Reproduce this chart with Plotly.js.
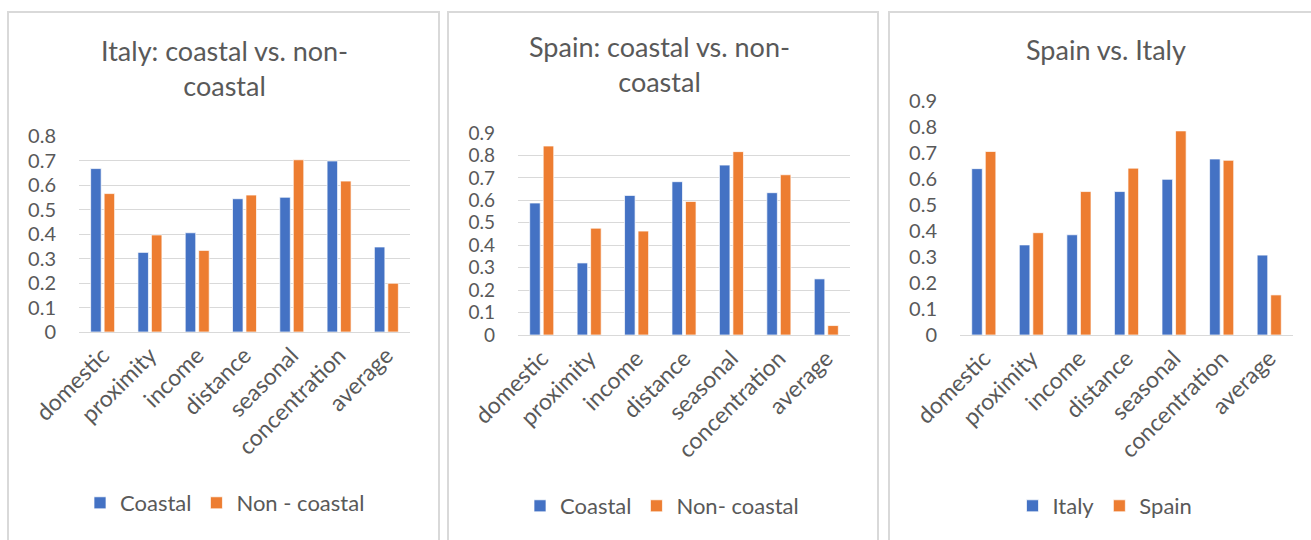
<!DOCTYPE html>
<html>
<head>
<meta charset="utf-8">
<script src="https://cdn.plot.ly/plotly-3.0.1.min.js"></script>
<style>
  html, body { margin: 0; padding: 0; background: #ffffff; }
  #chart { width: 1311px; height: 540px; }
</style>
</head>
<body>
<div id="chart"></div>
<script>
// Factor scores by category
const categories = ['domestic', 'proximity', 'income', 'distance', 'seasonal', 'concentration', 'average'];

const italyCoastal    = [0.667, 0.325, 0.405, 0.544, 0.550, 0.698, 0.347];
const italyNonCoastal = [0.565, 0.396, 0.333, 0.559, 0.703, 0.616, 0.199];

const spainCoastal    = [0.588, 0.321, 0.622, 0.683, 0.757, 0.634, 0.250];
const spainNonCoastal = [0.842, 0.476, 0.463, 0.595, 0.817, 0.714, 0.042];

const italyOverall = [0.639, 0.346, 0.385, 0.551, 0.598, 0.676, 0.307];
const spainOverall = [0.705, 0.393, 0.551, 0.641, 0.784, 0.671, 0.154];

const panelTitles = ['Italy: coastal vs. non-<br>coastal', 'Spain: coastal vs. non-<br>coastal', 'Spain vs. Italy'];

// ---- styling ----
const W = 1311, H = 540;
const BLUE = '#4472C4', ORANGE = '#ED7D31';
const TEXT = '#595959', GRID = '#d9d9d9', FRAME = '#d9d9d9';
const FONT = 'Lato, "Open Sans", sans-serif';

const px = x => x / W;
const py = y => 1 - y / H;

function bar(name, values, color, xa, ya, legend) {
  return {
    type: 'bar', name: name, x: categories, y: values,
    xaxis: xa, yaxis: ya, legend: legend,
    marker: { color: color, line: { color: 'rgba(255,255,255,0.7)', width: 1 } },
    hoverinfo: 'x+y+name'
  };
}

const data = [
  bar('Coastal', italyCoastal, BLUE, 'x', 'y', 'legend'),
  bar('Non - coastal', italyNonCoastal, ORANGE, 'x', 'y', 'legend'),
  bar('Coastal', spainCoastal, BLUE, 'x2', 'y2', 'legend2'),
  bar('Non- coastal', spainNonCoastal, ORANGE, 'x2', 'y2', 'legend2'),
  bar('Italy', italyOverall, BLUE, 'x3', 'y3', 'legend3'),
  bar('Spain', spainOverall, ORANGE, 'x3', 'y3', 'legend3')
];

function xAxis(x0, x1, anchor) {
  return {
    domain: [px(x0), px(x1)], anchor: anchor,
    type: 'category', tickangle: -45,
    tickfont: { family: FONT, size: 23, color: TEXT },
    showline: true, linecolor: GRID, linewidth: 1,
    showgrid: false, ticks: '', zeroline: false, fixedrange: true
  };
}
function yAxis(y0, y1, maxV, anchor, grid, fontSize) {
  return {
    domain: [py(y0), py(y1)], anchor: anchor,
    range: [0, maxV], dtick: 0.1, tick0: 0,
    tickfont: { family: FONT, size: fontSize, color: TEXT },
    showgrid: grid, gridcolor: GRID, gridwidth: 1,
    zeroline: false, showline: false, ticks: '',
    ticklabelstandoff: 22, fixedrange: true
  };
}

function legendAt(cx, cy) {
  return {
    orientation: 'h', x: px(cx), y: py(cy),
    xanchor: 'center', yanchor: 'middle',
    font: { family: FONT, size: 22, color: TEXT },
    bgcolor: 'rgba(0,0,0,0)', itemwidth: 30, traceorder: 'normal'
  };
}

function titleAt(text, cx, cy) {
  return {
    text: text, xref: 'paper', yref: 'paper',
    x: px(cx), y: py(cy), xanchor: 'center', yanchor: 'middle',
    showarrow: false, align: 'center',
    font: { family: FONT, size: 27, color: TEXT }
  };
}

function frame(x0, x1) {
  return {
    type: 'rect', xref: 'paper', yref: 'paper',
    x0: px(x0), x1: px(x1), y0: py(560), y1: py(12),
    line: { color: FRAME, width: 2 }, fillcolor: 'rgba(0,0,0,0)', layer: 'below'
  };
}

const layout = {
  width: W, height: H,
  margin: { l: 0, r: 0, t: 0, b: 0 },
  paper_bgcolor: '#ffffff', plot_bgcolor: '#ffffff',
  barmode: 'group', bargap: 0.43, bargroupgap: 0.22,
  font: { family: FONT, color: TEXT },
  xaxis:  xAxis(79, 410, 'y'),
  yaxis:  yAxis(332, 136, 0.8, 'x', true, 20),
  xaxis2: xAxis(518, 850, 'y2'),
  yaxis2: yAxis(335, 133, 0.9, 'x2', true, 19),
  xaxis3: xAxis(960, 1293, 'y3'),
  yaxis3: yAxis(335, 100.7, 0.9, 'x3', false, 20),
  showlegend: true,
  legend:  legendAt(225, 503),
  legend2: legendAt(662, 506),
  legend3: legendAt(1105, 506),
  annotations: [
    titleAt(panelTitles[0], 224, 68),
    titleAt(panelTitles[1], 659, 64),
    titleAt(panelTitles[2], 1106, 50)
  ],
  shapes: [frame(8, 439), frame(448, 878), frame(889, 1330)]
};

Plotly.newPlot('chart', data, layout, { displayModeBar: false, staticPlot: true });
</script>
</body>
</html>
